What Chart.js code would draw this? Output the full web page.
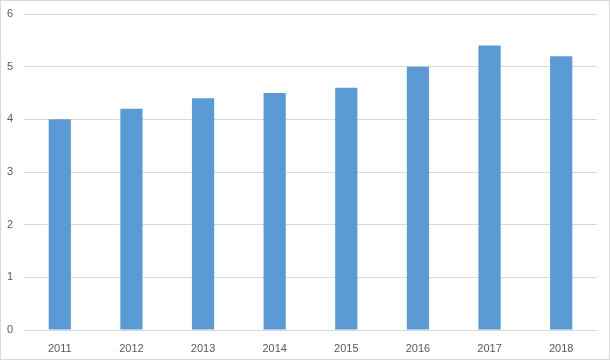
<!DOCTYPE html>
<html>
<head>
<meta charset="utf-8">
<script src="https://cdn.jsdelivr.net/npm/chart.js@4/dist/chart.umd.min.js"></script>
<style>
  html, body { margin: 0; padding: 0; background: #fff; }
  #wrap { width: 610px; height: 360px; box-sizing: border-box; border: 1px solid #d9d9d9; position: relative; }
</style>
</head>
<body>
<div id="wrap"><canvas id="chart"></canvas></div>
<script>
// chart data
const years = ['2011', '2012', '2013', '2014', '2015', '2016', '2017', '2018'];
const values = [4, 4.2, 4.4, 4.5, 4.6, 5, 5.4, 5.2];

const barColor = '#5b9bd5';
const gridColor = '#d9d9d9';
const textColor = '#595959';

Chart.defaults.font.family = "'Liberation Sans', Arial, sans-serif";
Chart.defaults.font.size = 11;
Chart.defaults.color = textColor;

new Chart(document.getElementById('chart'), {
  type: 'bar',
  data: {
    labels: years,
    datasets: [{
      data: values,
      backgroundColor: barColor,
      categoryPercentage: 1,
      barPercentage: 0.31
    }]
  },
  options: {
    responsive: true,
    maintainAspectRatio: false,
    animation: false,
    layout: { padding: { top: 13, right: 12, left: 6, bottom: 0 } },
    plugins: { legend: { display: false }, tooltip: { enabled: false } },
    scales: {
      x: {
        grid: { display: false },
        border: { color: gridColor },
        ticks: { padding: 4, color: textColor },
        afterFit: function (axis) { axis.height = 29; }
      },
      y: {
        min: 0,
        max: 6,
        grid: { color: gridColor, drawTicks: false },
        border: { display: false },
        ticks: { stepSize: 1, padding: 2, crossAlign: 'far', color: textColor },
        afterFit: function (axis) { axis.width = 17; }
      }
    }
  }
});
</script>
</body>
</html>
